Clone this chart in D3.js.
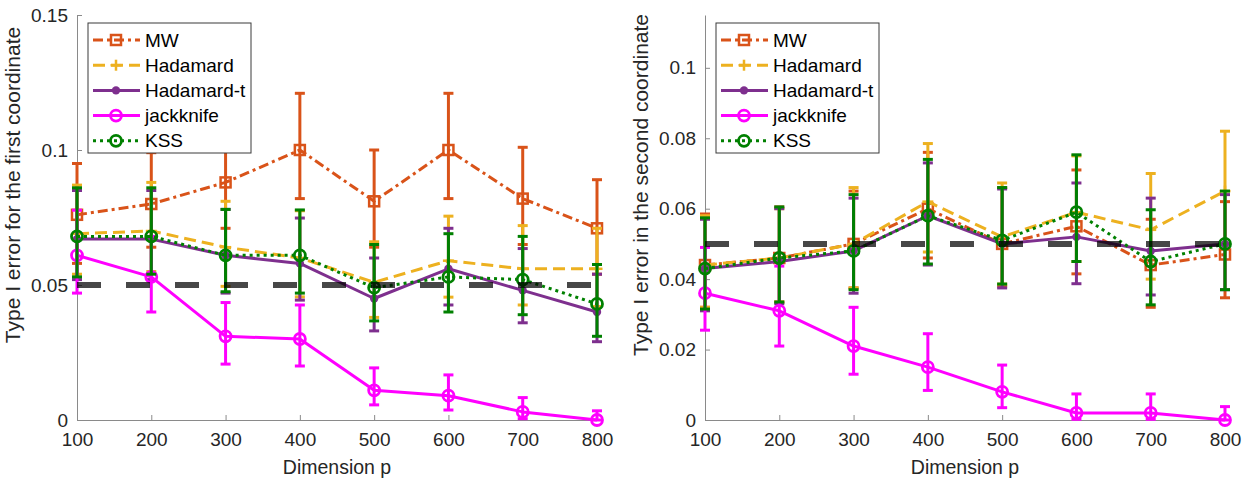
<!DOCTYPE html>
<html>
<head>
<meta charset="utf-8">
<script src="https://cdn.jsdelivr.net/npm/d3@7/dist/d3.min.js"></script>
<style>
  html, body { margin: 0; padding: 0; background: #ffffff; }
  svg { display: block; font-family: "Liberation Sans", Arial, Helvetica, sans-serif; }
</style>
</head>
<body>
<svg id="chart" width="1255" height="482"></svg>
<script>
// ---------------- DATA ----------------
const dims = [100, 200, 300, 400, 500, 600, 700, 800];
const xTickLabels = ["100", "200", "300", "400", "500", "600", "700", "800"];
const seriesNames = ["MW", "Hadamard", "Hadamard-t", "jackknife", "KSS"];
const refLevel = 0.05;

const leftYTicks = [0, 0.05, 0.1, 0.15];
const leftYTickLabels = ["0", "0.05", "0.1", "0.15"];
const rightYTicks = [0, 0.02, 0.04, 0.06, 0.08, 0.1];
const rightYTickLabels = ["0", "0.02", "0.04", "0.06", "0.08", "0.1"];

const leftYLabel = "Type I error for the first coordinate";
const rightYLabel = "Type I error in the second coordinate";
const xLabel = "Dimension p";

// first coordinate (left panel)
const mw1      = [0.076, 0.080, 0.088, 0.100, 0.081, 0.100, 0.082, 0.071];
const mw1Hi    = [0.095, 0.099, 0.108, 0.121, 0.100, 0.121, 0.101, 0.089];
const mw1Lo    = [0.058, 0.064, 0.071, 0.082, 0.064, 0.082, 0.065, 0.054];
const had1     = [0.069, 0.070, 0.064, 0.060, 0.051, 0.059, 0.056, 0.056];
const had1Hi   = [0.087, 0.088, 0.081, 0.0775, 0.066, 0.0755, 0.072, 0.071];
const had1Lo   = [0.054, 0.055, 0.0495, 0.0456, 0.038, 0.0455, 0.0426, 0.042];
const hadt1    = [0.067, 0.067, 0.061, 0.058, 0.045, 0.056, 0.048, 0.040];
const hadt1Hi  = [0.085, 0.085, 0.078, 0.0748, 0.060, 0.071, 0.0635, 0.054];
const hadt1Lo  = [0.052, 0.052, 0.047, 0.0444, 0.033, 0.0426, 0.036, 0.029];
const jk1      = [0.061, 0.053, 0.031, 0.030, 0.011, 0.009, 0.003, 0.000];
const jk1Hi    = [0.0777, 0.068, 0.0435, 0.0426, 0.0193, 0.0167, 0.0083, 0.0034];
const jk1Lo    = [0.047, 0.040, 0.0207, 0.020, 0.0056, 0.0037, 0.0005, 0.000];
const kss1     = [0.068, 0.068, 0.061, 0.061, 0.049, 0.053, 0.052, 0.043];
const kss1Hi   = [0.086, 0.086, 0.078, 0.0778, 0.065, 0.069, 0.068, 0.0576];
const kss1Lo   = [0.053, 0.054, 0.0475, 0.047, 0.0367, 0.040, 0.039, 0.031];

// second coordinate (right panel)
const mw2      = [0.044, 0.046, 0.050, 0.060, 0.050, 0.055, 0.044, 0.047];
const mw2Hi    = [0.0585, 0.0605, 0.065, 0.076, 0.066, 0.071, 0.057, 0.062];
const mw2Lo    = [0.032, 0.0335, 0.0375, 0.046, 0.038, 0.0415, 0.032, 0.0347];
const had2     = [0.044, 0.046, 0.050, 0.062, 0.052, 0.059, 0.054, 0.065];
const had2Hi   = [0.058, 0.060, 0.066, 0.0785, 0.0673, 0.075, 0.070, 0.082];
const had2Lo   = [0.032, 0.0335, 0.0375, 0.0477, 0.0386, 0.045, 0.040, 0.050];
const hadt2    = [0.043, 0.045, 0.048, 0.058, 0.050, 0.052, 0.048, 0.050];
const hadt2Hi  = [0.057, 0.060, 0.063, 0.073, 0.0656, 0.0673, 0.063, 0.064];
const hadt2Lo  = [0.031, 0.033, 0.036, 0.044, 0.0375, 0.0387, 0.0355, 0.037];
const jk2      = [0.036, 0.031, 0.021, 0.015, 0.008, 0.002, 0.002, 0.000];
const jk2Hi    = [0.049, 0.0437, 0.032, 0.0245, 0.0156, 0.0074, 0.0074, 0.0038];
const jk2Lo    = [0.0255, 0.021, 0.013, 0.0084, 0.0035, 0.0002, 0.0002, 0.000];
const kss2     = [0.043, 0.046, 0.048, 0.058, 0.051, 0.059, 0.045, 0.050];
const kss2Hi   = [0.0574, 0.0605, 0.064, 0.074, 0.066, 0.0753, 0.0597, 0.065];
const kss2Lo   = [0.0315, 0.0335, 0.037, 0.0443, 0.0386, 0.045, 0.0327, 0.037];

// ---------------- STYLES ----------------
const styles = {
  "MW":         { color: "#D95319", dash: "10,4,3,4", marker: "square" },
  "Hadamard":   { color: "#EDB120", dash: "12,6",     marker: "plus" },
  "Hadamard-t": { color: "#7E2F8E", dash: null,       marker: "dot" },
  "jackknife":  { color: "#FF00FF", dash: null,       marker: "circle" },
  "KSS":        { color: "#008000", dash: "3,4",      marker: "circle" }
};

const svg = d3.select("#chart");
const textColor = "#262626";
const axisColor = "#8a8a8a";

function drawMarker(g, type, cx, cy, color) {
  if (type === "square") {
    g.append("rect").attr("x", cx - 5).attr("y", cy - 5).attr("width", 10).attr("height", 10)
      .attr("fill", "none").attr("stroke", color).attr("stroke-width", 2.5);
  } else if (type === "plus") {
    g.append("line").attr("x1", cx - 5.5).attr("x2", cx + 5.5).attr("y1", cy).attr("y2", cy)
      .attr("stroke", color).attr("stroke-width", 2.5);
    g.append("line").attr("x1", cx).attr("x2", cx).attr("y1", cy - 5.5).attr("y2", cy + 5.5)
      .attr("stroke", color).attr("stroke-width", 2.5);
  } else if (type === "dot") {
    g.append("circle").attr("cx", cx).attr("cy", cy).attr("r", 4.2).attr("fill", color);
  } else if (type === "circle") {
    g.append("circle").attr("cx", cx).attr("cy", cy).attr("r", 5.5)
      .attr("fill", "none").attr("stroke", color).attr("stroke-width", 2.8);
  }
}

function drawPanel(cfg) {
  const x = d3.scaleLinear().domain([100, 800]).range(cfg.xRange);
  const y = d3.scaleLinear().domain([0, cfg.yMax]).range([420, 15]);
  const g = svg.append("g");

  // axes
  const xAxis = d3.axisBottom(x).tickValues(dims)
    .tickFormat((d, i) => xTickLabels[i]).tickSizeInner(-5).tickSizeOuter(0).tickPadding(13);
  const gx = g.append("g").attr("transform", `translate(0,${y(0)})`).call(xAxis);
  const yAxis = d3.axisLeft(y).tickValues(cfg.yTicks)
    .tickFormat((d, i) => cfg.yTickLabels[i]).tickSizeInner(-5).tickSizeOuter(0).tickPadding(9);
  const gy = g.append("g").attr("transform", `translate(${x(100)},0)`).call(yAxis);
  [gx, gy].forEach(a => {
    a.select(".domain").attr("stroke", axisColor).attr("stroke-width", 1);
    a.selectAll(".tick line").attr("stroke", axisColor).attr("stroke-width", 1);
    a.selectAll(".tick text").attr("fill", textColor).style("font-size", "19px")
      .style("font-family", "'Liberation Sans', Arial, sans-serif");
  });

  // labels
  g.append("text").attr("x", (x(100) + x(800)) / 2).attr("y", 474)
    .attr("text-anchor", "middle").attr("fill", textColor).style("font-size", "19.5px")
    .text(xLabel);
  const lx = x(100) - 57;
  g.append("text").attr("transform", `translate(${lx},185) rotate(-90)`)
    .attr("text-anchor", "middle").attr("fill", textColor).style("font-size", "21px")
    .text(cfg.yLabel);

  // series
  cfg.series.forEach(s => {
    const st = styles[s.name];
    const sg = g.append("g");
    const pts = dims.map((d, i) => ({ p: d, v: s.v[i], lo: s.lo[i], hi: s.hi[i] }));
    const line = d3.line().x(d => x(d.p)).y(d => y(d.v));
    sg.append("path").datum(pts).attr("d", line).attr("fill", "none")
      .attr("stroke", st.color).attr("stroke-width", 3)
      .attr("stroke-dasharray", st.dash).attr("stroke-linejoin", "round");
    pts.forEach(d => {
      sg.append("line").attr("x1", x(d.p)).attr("x2", x(d.p)).attr("y1", y(d.lo)).attr("y2", y(d.hi))
        .attr("stroke", st.color).attr("stroke-width", 3);
      [d.lo, d.hi].forEach(b => {
        sg.append("line").attr("x1", x(d.p) - 5).attr("x2", x(d.p) + 5).attr("y1", y(b)).attr("y2", y(b))
          .attr("stroke", st.color).attr("stroke-width", 3);
      });
    });
    pts.forEach(d => drawMarker(sg, st.marker, x(d.p), y(d.v), st.color));
  });

  // reference line
  g.append("line").attr("x1", x(100)).attr("x2", x(800)).attr("y1", y(refLevel)).attr("y2", y(refLevel))
    .attr("stroke", "#000").attr("stroke-opacity", 0.72).attr("stroke-width", 6)
    .attr("stroke-dasharray", "24,25");

  // legend
  const lg = g.append("g").attr("transform", `translate(${x(100) + 11},23)`);
  lg.append("rect").attr("x", 0).attr("y", 0).attr("width", 163).attr("height", 130)
    .attr("fill", "#fff").attr("stroke", "#3a3a3a").attr("stroke-width", 1);
  seriesNames.forEach((n, i) => {
    const st = styles[n];
    const ry = 17 + i * 25.2;
    const row = lg.append("g");
    row.append("line").attr("x1", 5).attr("x2", 52).attr("y1", ry).attr("y2", ry)
      .attr("stroke", st.color).attr("stroke-width", 3).attr("stroke-dasharray", st.dash);
    drawMarker(row, st.marker, 28, ry, st.color);
    row.append("text").attr("x", 57).attr("y", ry).attr("dy", "0.35em")
      .attr("fill", "#000").style("font-size", "19px").text(n);
  });
}

drawPanel({
  xRange: [77, 597], yMax: 0.15, yTicks: leftYTicks, yTickLabels: leftYTickLabels, yLabel: leftYLabel,
  series: [
    { name: "MW", v: mw1, lo: mw1Lo, hi: mw1Hi },
    { name: "Hadamard", v: had1, lo: had1Lo, hi: had1Hi },
    { name: "Hadamard-t", v: hadt1, lo: hadt1Lo, hi: hadt1Hi },
    { name: "jackknife", v: jk1, lo: jk1Lo, hi: jk1Hi },
    { name: "KSS", v: kss1, lo: kss1Lo, hi: kss1Hi }
  ]
});
drawPanel({
  xRange: [705, 1225], yMax: 0.115, yTicks: rightYTicks, yTickLabels: rightYTickLabels, yLabel: rightYLabel,
  series: [
    { name: "MW", v: mw2, lo: mw2Lo, hi: mw2Hi },
    { name: "Hadamard", v: had2, lo: had2Lo, hi: had2Hi },
    { name: "Hadamard-t", v: hadt2, lo: hadt2Lo, hi: hadt2Hi },
    { name: "jackknife", v: jk2, lo: jk2Lo, hi: jk2Hi },
    { name: "KSS", v: kss2, lo: kss2Lo, hi: kss2Hi }
  ]
});
</script>
</body>
</html>
